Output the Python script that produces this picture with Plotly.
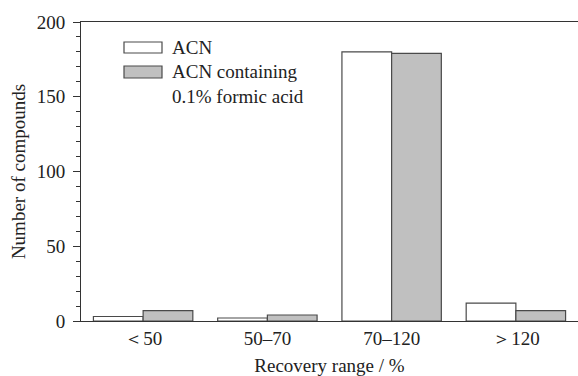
import plotly.graph_objects as go

categories = ["＜50", "50–70", "70–120", "＞120"]
acn = [3, 2, 180, 12]
acn_fa = [7, 4, 179, 7]
series_names = ["ACN", "ACN containing<br>0.1% formic acid"]

FONT = "Liberation Serif, Times New Roman, serif"
edge = "#4a4a4a"
FS = 19

fig = go.Figure()
fig.add_trace(go.Bar(x=categories, y=acn, name="ACN", marker=dict(color="white", line=dict(color=edge, width=1.2)), showlegend=False))
fig.add_trace(go.Bar(x=categories, y=acn_fa, name="ACN containing 0.1% formic acid", marker=dict(color="#c0c0c0", line=dict(color=edge, width=1.2)), showlegend=False))

fig.update_layout(
    width=578, height=376,
    margin=dict(l=81, r=0, t=22, b=55),
    paper_bgcolor="white", plot_bgcolor="white",
    barmode="group", bargap=0.2, bargroupgap=0,
    font=dict(family=FONT, size=FS, color="#222"),
)
fig.update_xaxes(
    range=[-0.5, 3.5], showline=True, linecolor="#333", linewidth=1, mirror=True,
    ticks="", showgrid=False, tickfont=dict(size=FS), automargin=False,
    title=dict(text="Recovery range / %", font=dict(size=FS), standoff=12),
)
fig.update_yaxes(
    range=[0, 200], showline=True, linecolor="#333", linewidth=1, mirror=False,
    ticks="outside", ticklen=7, tickwidth=1, tickcolor="#333", dtick=50,
    minor=dict(ticks="outside", ticklen=4, dtick=10, tickcolor="#333", showgrid=False),
    showgrid=False, zeroline=False, ticklabelstandoff=4, tickfont=dict(size=FS), automargin=False,
    title=dict(text="Number of compounds", font=dict(size=FS), standoff=6),
)

# manual legend
fills = ["white", "#c0c0c0"]
ys = [(42, 53), (66, 78)]
for fill, (y0, y1) in zip(fills, ys):
    fig.add_shape(type="rect", xref="paper", yref="paper",
                  x0=(124 - 81) / 497, x1=(162 - 81) / 497,
                  y0=1 - (y1 - 22) / 299, y1=1 - (y0 - 22) / 299,
                  line=dict(color=edge, width=1.2), fillcolor=fill)
fig.add_annotation(xref="paper", yref="paper", x=(170 - 81) / 497, y=1 - (48 - 22) / 299,
                   text=series_names[0], showarrow=False, xanchor="left", yanchor="middle",
                   font=dict(size=FS, family=FONT))
fig.add_annotation(xref="paper", yref="paper", x=(170 - 81) / 497, y=1 - (59 - 22) / 299,
                   text=series_names[1], showarrow=False, xanchor="left", yanchor="top", align="left",
                   font=dict(size=FS, family=FONT))

fig.write_html("out.html", config={"displayModeBar": False},
               post_script="document.body.style.margin='0';document.body.style.overflow='hidden';")
